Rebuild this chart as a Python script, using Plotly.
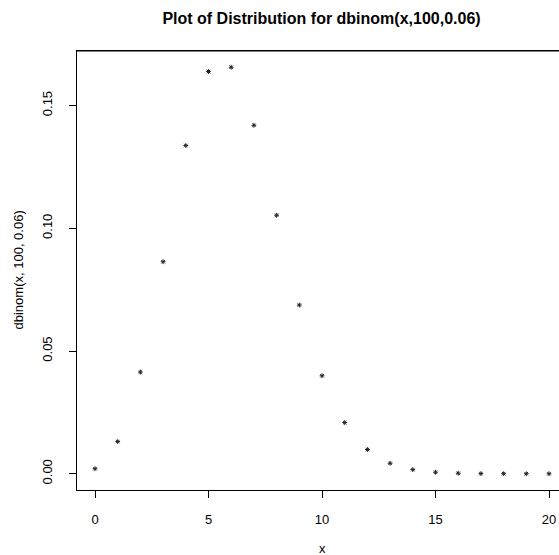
import plotly.graph_objects as go

# Binomial probabilities P(X = x) for n = 100, p = 0.06
x_vals = list(range(0, 21))
probs = [0.002054, 0.01311, 0.04142, 0.08637, 0.13369, 0.16384, 0.16558,
         0.14193, 0.10531, 0.06872, 0.03991, 0.02085, 0.00987, 0.004264,
         0.001691, 0.000619, 0.000210, 0.0000662, 0.0000195, 0.0000054,
         0.0000014]

x_ticks = [0, 5, 10, 15, 20]
y_ticks = [0.00, 0.05, 0.10, 0.15]
y_tick_text = ["0.00", "0.05", "0.10", "0.15"]

W, H = 559, 555
L, R, T, B = 77, 0, 51, 65
PW, PH = W - L - R, H - T - B

font = "Liberation Sans, Arial, Helvetica, sans-serif"

fig = go.Figure()
fig.add_trace(go.Scatter(
    x=x_vals, y=probs, mode="markers",
    marker=dict(symbol="asterisk-open", size=4, color="#222222",
                line=dict(color="#222222", width=1)),
    hoverinfo="x+y", showlegend=False,
))

fig.update_layout(
    width=W, height=H,
    margin=dict(l=L, r=R, t=T, b=B, pad=0),
    paper_bgcolor="white", plot_bgcolor="white",
    font=dict(family=font, size=13, color="black"),
    title=dict(text="<b>Plot of Distribution for dbinom(x,100,0.06)</b>",
               x=321.5 / W, xanchor="center", y=1 - 18 / H, yanchor="middle",
               font=dict(size=16, family=font, color="black")),
    xaxis=dict(range=[-0.793, 20.44], tickvals=x_ticks,
               ticks="outside", ticklen=7, tickwidth=1, tickcolor="black",
               showline=True, linecolor="black", linewidth=1, mirror=True,
               showgrid=False, zeroline=False,
               ticklabelstandoff=10),
    yaxis=dict(range=[-0.00662, 0.1722], tickvals=y_ticks, ticktext=y_tick_text,
               tickangle=-90,
               ticks="outside", ticklen=7, tickwidth=1, tickcolor="black",
               showline=True, linecolor="black", linewidth=1, mirror=False,
               showgrid=False, zeroline=False,
               ticklabelstandoff=12),
    annotations=[
        dict(text="x", xref="paper", yref="paper",
             x=(322 - L) / PW, y=-(548 - (T + PH)) / PH,
             xanchor="center", yanchor="middle", showarrow=False,
             font=dict(size=13)),
        dict(text="dbinom(x, 100, 0.06)", xref="paper", yref="paper",
             x=(18 - L) / PW, y=0.5, textangle=-90,
             xanchor="center", yanchor="middle", showarrow=False,
             font=dict(size=13)),
    ],
)

# top border of the plotting box
fig.add_shape(type="line", xref="paper", yref="paper",
              x0=0, x1=1, y0=1, y1=1, line=dict(color="black", width=1))

fig.write_html("out.html")
